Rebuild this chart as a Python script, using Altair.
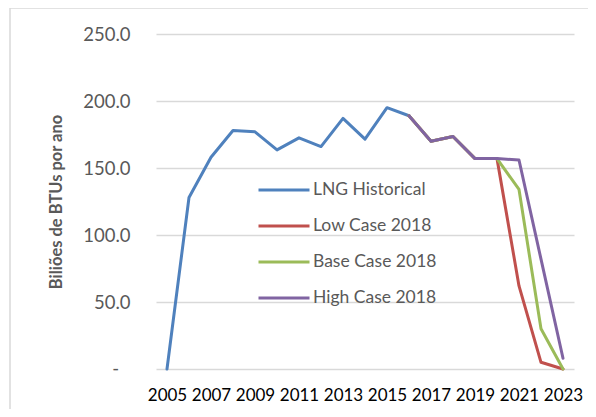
import altair as alt
import pandas as pd

years_hist = [2005, 2006, 2007, 2008, 2009, 2010, 2011, 2012, 2013, 2014, 2015, 2016]
lng_hist = [0, 128, 158, 178, 177, 163.5, 172.5, 166, 187, 171.5, 195, 189]

years_case = [2016, 2017, 2018, 2019, 2020, 2021, 2022, 2023]
low_case = [189, 170, 173.5, 157, 157, 62, 5, 0]
base_case = [189, 170, 173.5, 157, 157, 134, 30, 0]
high_case = [189, 170, 173.5, 157, 157, 156, 82, 8]

series_names = ["LNG Historical", "Low Case 2018", "Base Case 2018", "High Case 2018"]
series_colors = ["#4F81BD", "#C0504D", "#9BBB59", "#8064A2"]

rows = []
for y, v in zip(years_hist, lng_hist):
    rows.append({"year": y, "value": v, "series": series_names[0], "order": 0})
for i, vals in enumerate([low_case, base_case, high_case], start=1):
    for y, v in zip(years_case, vals):
        rows.append({"year": y, "value": v, "series": series_names[i], "order": i})
df = pd.DataFrame(rows)

FONT = "Lato"
W, H = 418, 335

one = pd.DataFrame({"a": [0]})
border_left = alt.Chart(one).mark_rule(stroke="#d9d9d9", strokeWidth=1.5, clip=False).encode(
    x=alt.value(-146), y=alt.value(-26), y2=alt.value(H + 80)
)
border_top = alt.Chart(one).mark_rule(stroke="#d9d9d9", strokeWidth=1.5, clip=False).encode(
    x=alt.value(-146), x2=alt.value(W + 60), y=alt.value(-26)
)

y_scale = alt.Scale(domain=[0, 250], nice=False)

zero_label = alt.Chart(pd.DataFrame({"v": [0], "t": ["-"]})).mark_text(
    font=FONT, fontSize=18.5, color="#595959", align="right", baseline="middle", clip=False
).encode(
    x=alt.value(-37), y=alt.Y("v:Q", scale=y_scale), text="t:N"
)

lines = alt.Chart(df).mark_line(strokeWidth=3, strokeCap="round", strokeJoin="round").encode(
    x=alt.X("year:Q",
            scale=alt.Scale(domain=[2004.5, 2023.5], nice=False, zero=False),
            axis=alt.Axis(values=list(range(2005, 2024, 2)), format="d", title=None,
                          grid=False, ticks=False, domain=False,
                          labelFont=FONT, labelFontSize=17, labelColor="#000000",
                          labelPadding=18, labelOverlap=False)),
    y=alt.Y("value:Q",
            scale=y_scale,
            axis=alt.Axis(values=[0, 50, 100, 150, 200, 250],
                          labelExpr="datum.value == 0 ? '' : format(datum.value, '.1f')",
                          title="Biliões de BTUs por ano",
                          titleFont=FONT, titleFontSize=16.5, titleFontWeight="bold",
                          titleColor="#595959", titlePadding=18,
                          grid=True, gridColor="#d9d9d9", gridWidth=1.5,
                          ticks=False, domain=False,
                          labelFont=FONT, labelFontSize=18.5, labelColor="#595959",
                          labelPadding=26)),
    color=alt.Color("series:N",
                    scale=alt.Scale(domain=series_names, range=series_colors),
                    legend=alt.Legend(orient="none", legendX=101, legendY=129,
                                      title=None, symbolType="stroke",
                                      symbolSize=2601, symbolStrokeWidth=3,
                                      labelFont=FONT, labelFontSize=17.5,
                                      labelColor="#595959", labelOffset=2,
                                      rowPadding=-14)),
    order=alt.Order("order:Q"),
    detail="series:N"
)

chart = alt.layer(border_left, border_top, lines, zero_label).properties(
    width=W, height=H,
    autosize=alt.AutoSizeParams(type="none"),
    padding={"left": 148, "top": 26, "right": 14, "bottom": 40},
    background="white"
).configure_view(stroke=None)

chart.save("out.html", embed_options={"renderer": "svg", "actions": False})
